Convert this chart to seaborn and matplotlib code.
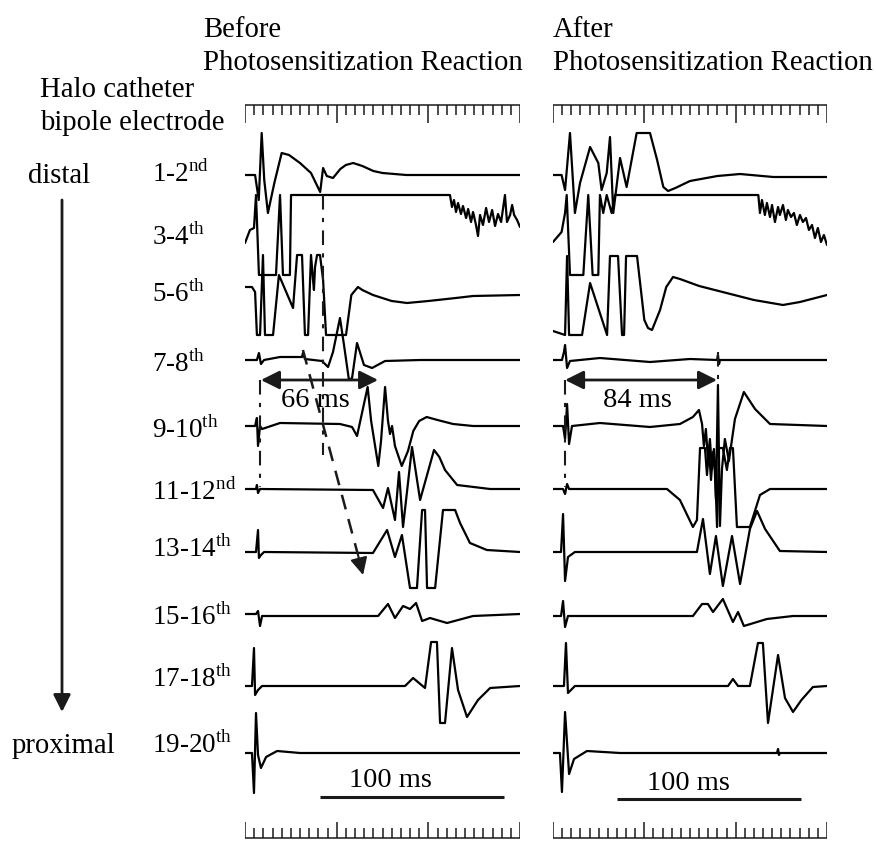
import numpy as np
import pandas as pd
import matplotlib
matplotlib.use("Agg")
import matplotlib.pyplot as plt
import seaborn as sns

# Halo catheter bipolar electrograms, before / after the photosensitization reaction
# time in ms from the window start, deflection in arbitrary units (positive = up)

channels = ["1-2", "3-4", "5-6", "7-8", "9-10", "11-12", "13-14", "15-16", "17-18", "19-20"]
suffixes = ["nd", "th", "th", "th", "th", "nd", "th", "th", "th", "th"]

# ---- before ----
b12_t = [0, 5.5, 7.5, 9.1, 10.5, 12.5, 16, 20, 24, 30, 36, 41, 42.6, 44.6, 48, 52, 55, 59, 64,
         70, 75, 88, 150]
b12_v = [0, 0, -25, 42, -5, -38, -8, 22, 20, 12, 2, -17, 7, -1, -3, 6, 10, 12, 9, 4, 2, 0, 0]
b34_t = [0, 2.7, 4.9, 6, 7.6, 16.9, 19.1, 20.7, 24.5, 25.1, 111.8, 112.9, 114, 115.1, 116.2,
         117.8, 118.9, 120.6, 121.7, 123.3, 124.4, 126, 127.1, 128.2, 129.8, 131.5, 133.1,
         134.8, 136.4, 138, 139.7, 141.8, 142.9, 144.6, 145.7, 146.8, 148.4, 150]
b34_v = [-8, 5, 7, 40, -40, -40, 40, -40, -40, 40, 40, 28, 35, 23, 32, 21, 29, 17, 26, 13, 23,
         10, -1, 20, 10, 27, 13, 25, 9, 21, 13, 40, 13, 20, 30, 20, 15, 8]
b56_t = [0, 3.8, 5.5, 6.5, 8.2, 9.8, 10.9, 15.3, 18.5, 26.2, 28.4, 31.1, 32.7, 34.4, 36, 37.1,
         37.6, 38.2, 39.3, 40.9, 42.6, 44.2, 55.1, 58, 61.6, 64, 69.8, 80, 88.4, 100, 115,
         124.4, 150]
b56_v = [8, 8, 3, -40, -40, 40, -40, -40, 20, -13, 40, 40, -40, -40, 40, 15, 5, 28, 40, 40, 15,
         -40, -40, 0, 8, 5, 0, -6, -8, -6, -3, -1, 0]
b78_t = [0, 6.5, 7.6, 8.7, 10.4, 19.1, 31.1, 31.6, 32.7, 42, 45.3, 48, 51.8, 54, 56.7, 58.4,
         61.1, 64.9, 69.3, 76.4, 95.5, 150]
b78_v = [0, 0, 7, -4, 0, 3, 3, 7, 1, -1, -7, 8, 42, 15, -20, -18, 17, -5, -8, -1, 0, 0]
b910_t = [0, 5.5, 6.5, 7.1, 8.2, 9.3, 19.1, 51.8, 58.4, 61.1, 66.9, 68.8, 72.7, 74.2, 76.4, 78,
          79.1, 80.2, 81.8, 85.5, 88.9, 91.8, 95, 99.1, 105, 113.5, 124.4, 150]
b910_v = [0, 0, 8, -20, 0, -3, 3, 2, -1, -10, 39, 5, -40, -15, 39, 5, -8, 0, -20, -40, -25, -5,
          5, 9, 6, 2, 0, 0]
b1112_t = [0, 6, 6.5, 7.1, 8.2, 69.8, 75.3, 78, 81.8, 84, 86.2, 91.1, 95.5, 103.1, 106, 109.1,
           115.7, 133.7, 150]
b1112_v = [0, 0, 4, -4, 0, -1, -19, 1, -31, 17, -38, 42, -11, 39, 32, 19, 4, 0, 0]
b1314_t = [0, 6, 7.1, 7.6, 8.7, 10.4, 69.8, 77.5, 81.8, 85.6, 90, 93.8, 96.6, 98.2, 99.3, 103.7,
           108, 114.6, 117.3, 122.7, 131.9, 150]
b1314_v = [0, 0, 22, -6, -3, 0, -1, 22, -5, 17, -36, -36, 42, 42, -36, -36, 42, 42, 29, 9, 2, 0]
b1516_t = [0, 6, 7.1, 8.2, 9.3, 72.6, 78, 81.8, 86.2, 90, 93.3, 96.6, 100.9, 110.2, 124.4, 150]
b1516_v = [2, 2, 5, -10, 0, 0, 12, -2, 10, 7, 13, -5, -2, -7, 0, 2]
b1718_t = [0, 3.8, 4.9, 5.5, 7.1, 9.3, 87.3, 91.7, 98.2, 101.5, 104.7, 106.4, 109.1, 112.9,
           116.2, 121.1, 127.1, 133.7, 150]
b1718_v = [0, 0, 38, -9, -4, 0, 0, 8, -2, 44, 44, -37, -37, 38, -4, -31, -14, -2, 0]
b1920_t = [0, 3.8, 4.9, 6, 7.1, 8.7, 11.5, 17.5, 30, 150]
b1920_v = [0, 0, -40, 40, -2, -15, -4, 2, 0, 0]

# ---- after ----
a12_t = [0, 4.7, 6.6, 9.3, 12, 14.8, 20.3, 24.8, 26.6, 29.4, 31.2, 33, 36.7, 40.3, 45.8, 53.1,
         57, 60.4, 63, 67, 75, 90, 102.4, 120.6, 150]
a12_v = [0, 0, -15, 42, -38, -8, 28, 12, -15, 2, 38, -38, 17, -12, 42, 42, 15, -12, -16, -13, -6,
         -1, 1, -2, -2]
a34_t = [0, 4.7, 6.6, 7.5, 9.3, 16.6, 19.3, 21.7, 24.8, 25.7, 27.5, 29.4, 32.1, 33.9, 112.4,
         113.3, 114.4, 116, 117.1, 118.8, 119.9, 121.5, 123.2, 124.2, 125.9, 127.5, 128.6,
         130.3, 131.9, 133.5, 135.2, 136.8, 138.5, 140.1, 141.8, 143.4, 145, 146.7, 148.3, 150]
a34_v = [-7, 3, 22, 40, -40, -40, 40, -40, -40, 40, 22, 40, 22, 40, 40, 22, 35, 20, 32, 18, 30,
         13, 28, 20, 30, 15, 25, 18, 22, 10, 20, 13, 17, 5, 10, -3, 7, -7, 0, -10]
a56_t = [0, 6.6, 7.7, 8.8, 10.4, 15.9, 20.3, 29.6, 31.2, 35.6, 37.8, 38.9, 40, 46, 50, 52, 54.2,
         58.6, 62, 65.7, 69.5, 80, 95, 110, 125.9, 135.2, 150]
a56_v = [-36, -40, 39, -40, -40, -40, 12, -40, 39, 39, -40, -40, 39, 39, -25, -33, -35, -15, 8,
         18, 16, 9, 2, -5, -10, -7, 0]
a78_t = [0, 4.9, 6, 6.6, 7.7, 9.3, 25.7, 53.1, 75, 89.8, 90.3, 90.9, 91.4, 150]
a78_v = [0, 0, 8, 15, -8, -1, 2, -2, 1, 0, 5, -4, 0, 0]
a910_t = [0, 5.5, 6.6, 7.7, 8.8, 10.4, 25.7, 53.1, 69.5, 76.6, 79.9, 81.6, 82.6, 83.7, 84.8,
          85.9, 87, 88.1, 89.2, 90.3, 91.4, 92.5, 94.1, 96.3, 99.6, 104.5, 110.6, 118.8, 150]
a910_v = [0, 0, -13, 22, -18, 0, 3, -1, 2, 9, 16, 2, -20, -3, -33, -13, -43, -23, -73, 41, -100,
          -43, -13, -35, 7, 34, 17, 2, 0]
a1112_t = [0, 5.5, 6.6, 7.7, 8.8, 62.4, 69.5, 76.6, 78.8, 80.5, 83.2, 84.3, 85.4, 86.5, 87.6,
           88.7, 89.8, 90.9, 93, 95.2, 96.9, 98.5, 100.7, 107.8, 113.3, 118.8, 150]
a1112_v = [0, 0, -5, 5, 0, 0, -11, -38, -31, 41, 41, 14, 39, 9, 37, 19, -38, 41, 41, 19, 41, 41,
           -38, -38, -6, 0, 0]
a1314_t = [0, 4.4, 5.5, 6.6, 8.2, 12, 78.8, 82.1, 85.9, 89.2, 93, 98, 102.4, 107.8, 111.7, 116.1,
           124.2, 150]
a1314_v = [0, 0, 38, -29, -5, 0, 0, 33, -22, 16, -34, 16, -32, 23, 41, 23, 1, 0]
a1516_t = [0, 4.4, 5.5, 6.6, 8.2, 76.6, 81.6, 84.8, 87.6, 93, 98.5, 101.3, 104.5, 117.1, 131.4, 150]
a1516_v = [0, 0, 15, -11, 0, 0, 12, 12, 4, 17, -6, 4, -10, -3, 0, 0]
a1718_t = [0, 6, 7.1, 8.2, 12, 95.8, 98.5, 101.3, 107.8, 112.2, 114.9, 117.7, 123.2, 127,
           131.4, 136, 142.3, 150]
a1718_v = [0, 0, 43, -7, 0, 0, 7, 0, 0, 43, 43, -37, 31, -12, -26, -14, -1, 0]
a1920_t = [0, 3.8, 4.9, 6.6, 8.8, 11.5, 18.6, 36.7, 122.6, 123.2, 123.7, 124.2, 150]
a1920_v = [0, 0, -39, 41, -21, -6, 2, 0, 0, 4, -2, 0, 0]

before_t = [b12_t, b34_t, b56_t, b78_t, b910_t, b1112_t, b1314_t, b1516_t, b1718_t, b1920_t]
before_v = [b12_v, b34_v, b56_v, b78_v, b910_v, b1112_v, b1314_v, b1516_v, b1718_v, b1920_v]
after_t = [a12_t, a34_t, a56_t, a78_t, a910_t, a1112_t, a1314_t, a1516_t, a1718_t, a1920_t]
after_v = [a12_v, a34_v, a56_v, a78_v, a910_v, a1112_v, a1314_v, a1516_v, a1718_v, a1920_v]

# vertical slot of each channel (pixel rows of the page, top = 0)
row_y = [175, 235, 295, 360, 426, 489, 552, 616, 686, 753]
label_y = [182, 245, 302, 372, 438, 500, 557, 625, 687, 753]

sns.set_theme(style="white")
plt.rcParams["font.family"] = ["Liberation Serif", "DejaVu Serif"]
plt.rcParams["mathtext.fontset"] = "custom"
plt.rcParams["mathtext.rm"] = "Liberation Serif"
plt.rcParams["text.color"] = "black"


def traces_frame(times, values):
    parts = []
    for i, (t, v) in enumerate(zip(times, values)):
        parts.append(pd.DataFrame({"channel": channels[i], "t": t,
                                   "y": row_y[i] - np.asarray(v, dtype=float)}))
    return pd.concat(parts, ignore_index=True)


def draw_rulers(ax):
    ticks = np.arange(0, 151, 5)
    major = ticks % 50 == 0
    ax.hlines(105, 0, 150, color="k", lw=1.1)
    ax.vlines(ticks[~major], 105, 115, color="k", lw=1.1)
    ax.vlines(ticks[major], 105, 123, color="k", lw=1.1)
    ax.hlines(838, 0, 150, color="k", lw=1.1)
    ax.vlines(ticks[~major], 828, 838, color="k", lw=1.1)
    ax.vlines(ticks[major], 822, 838, color="k", lw=1.1)


fig = plt.figure(figsize=(8.76, 8.41), dpi=100)
W, H = 876, 841

ax_bg = fig.add_axes([0, 0, 1, 1])
ax_bg.set_xlim(0, W)
ax_bg.set_ylim(H, 0)
ax_bg.axis("off")

ax_l = fig.add_axes([245 / W, 0, 275 / W, 1])
ax_r = fig.add_axes([553 / W, 0, 274 / W, 1])

for ax, tt, vv in [(ax_l, before_t, before_v), (ax_r, after_t, after_v)]:
    df = traces_frame(tt, vv)
    sns.lineplot(data=df, x="t", y="y", units="channel", estimator=None, sort=False,
                 color="black", linewidth=1.6, ax=ax)
    ax.set_xlim(0, 150)
    ax.set_ylim(H, 0)
    ax.axis("off")
    draw_rulers(ax)

dashdot = (0, (7, 4, 2, 4))
arrow_kw = dict(arrowstyle="<|-|>", mutation_scale=28, lw=2, color="k", shrinkA=0, shrinkB=0)

# before panel annotations
ax_l.plot([42.6, 42.6], [195, 455], color="k", lw=1.5, ls=dashdot)
ax_l.plot([8.2, 8.2], [380, 487], color="k", lw=1.5, ls=dashdot)
ax_l.plot([31.6, 61.5], [350, 554], color="k", lw=1.8, ls=(0, (6, 4)))
ax_l.annotate("", xy=(64.4, 575), xytext=(61.5, 554),
              arrowprops=dict(arrowstyle="-|>", mutation_scale=26, lw=1.5, color="k",
                              shrinkA=0, shrinkB=0))
ax_l.annotate("", xy=(8.7, 380), xytext=(72.6, 380), arrowprops=arrow_kw)
ax_l.text(38.2, 407, "66 ms", ha="center", va="baseline", fontsize=20.5)
ax_l.hlines(797, 41, 141, color="k", lw=2.2)
ax_l.text(79.6, 787, "100 ms", ha="center", va="baseline", fontsize=20.5)

# after panel annotations
ax_r.plot([6.6, 6.6], [380, 487], color="k", lw=1.5, ls=dashdot)
ax_r.plot([90.3, 90.3], [352, 385], color="k", lw=1.5, ls=dashdot)
ax_r.annotate("", xy=(6.6, 380), xytext=(89.8, 380), arrowprops=arrow_kw)
ax_r.text(46, 407, "84 ms", ha="center", va="baseline", fontsize=20.5)
ax_r.hlines(799, 35, 136, color="k", lw=2.2)
ax_r.text(73.9, 790, "100 ms", ha="center", va="baseline", fontsize=20.5)

# headings and side labels
head = 20.7
ax_bg.text(203, 37, "Before", fontsize=head, va="baseline")
ax_bg.text(203, 70, "Photosensitization Reaction", fontsize=head, va="baseline")
ax_bg.text(553, 37, "After", fontsize=head, va="baseline")
ax_bg.text(553, 70, "Photosensitization Reaction", fontsize=head, va="baseline")
ax_bg.text(40, 97, "Halo catheter", fontsize=head, va="baseline")
ax_bg.text(40, 130, "bipole electrode", fontsize=head, va="baseline")
ax_bg.text(28, 183, "distal", fontsize=head, va="baseline")
ax_bg.text(12, 753, "proximal", fontsize=head, va="baseline")
ax_bg.annotate("", xy=(62, 712), xytext=(62, 200),
               arrowprops=dict(arrowstyle="-|>", mutation_scale=26, lw=2, color="k",
                               shrinkA=0, shrinkB=0))

for name, suf, yy in zip(channels, suffixes, label_y):
    ax_bg.text(152, yy, name + r"$^{\mathrm{" + suf + "}}$", fontsize=19.5, va="baseline")

fig.savefig("out.png", dpi=100, facecolor="white")
